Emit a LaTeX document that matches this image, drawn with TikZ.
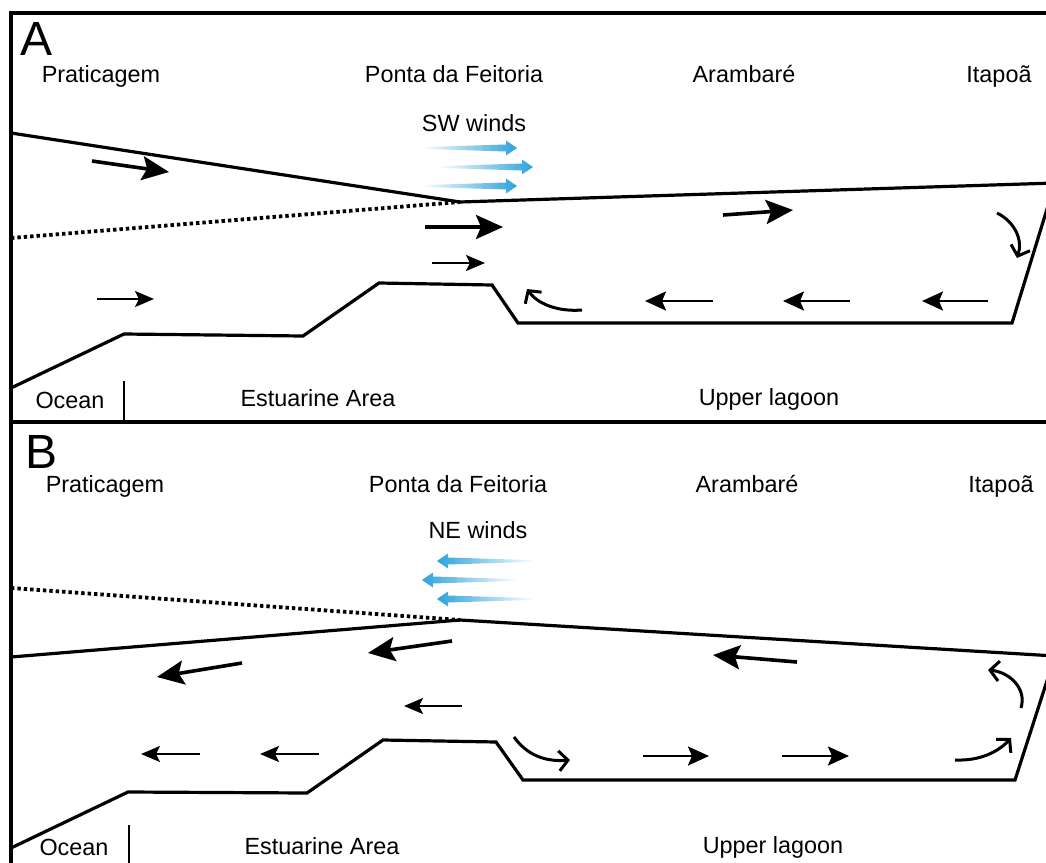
\documentclass[tikz,border=0pt]{standalone}
\usepackage{fontspec}
\setmainfont{Liberation Sans}
\usetikzlibrary{arrows.meta}
\definecolor{windblue}{HTML}{2EA3DC}

\begin{document}
\begin{tikzpicture}[
  x=0.5pt, y=-0.5pt,
  frame/.style={line width=1.7pt, line join=miter},
  shore/.style={line width=1.6pt, line join=miter},
  channel/.style={line width=1.9pt, dash pattern=on 1.7pt off 1.5pt},
  place/.style={font=\fontsize{11.7}{14}\selectfont, anchor=base, inner sep=0pt},
  panel/.style={font=\fontsize{24}{28}\selectfont, inner sep=0pt},
  flowthick/.style={line width=1.8pt, -{Stealth[length=13.5pt, width=12pt, inset=2.5pt]}},
  flow/.style={line width=1.3pt, -{Stealth[length=10.5pt, width=9.5pt, inset=2pt]}},
  flowthin/.style={line width=1pt, -{Stealth[length=9.5pt, width=8pt, inset=2pt]}},
  eddy/.style={line width=1.5pt, -{Straight Barb[length=4.5pt, width=10pt, line width=1.5pt]}},
  wind/.style={left color=white, middle color=windblue!60, right color=windblue}
]
\useasboundingbox (0,0) rectangle (1046,863);
\clip (0,0) rectangle (1046,863);

% Frame
\draw[frame] (11,863) -- (11,13) -- (1046,13);
\draw[frame] (11,422) -- (1046,422);
\draw[line width=0.7pt] (124,381) -- (124,422);
\draw[line width=0.7pt] (129,825) -- (129,863);

% Panel A: SW winds
\node[panel] (A) at (37,39) {A};
\node[place] (pratA) at (101,82) {Praticagem};
\node[place] (pontaA) at (454,82) {Ponta da Feitoria};
\node[place] (aramA) at (744,82) {Arambaré};
\node[place] (itaA) at (999,82) {Itapoã};
\node[place] (windA) at (474,131) {SW winds};
\node[place] (oceanA) at (70,408) {Ocean};
\node[place] (estA) at (318,406) {Estuarine Area};
\node[place] (upA) at (769,405) {Upper lagoon};

\coordinate (FA) at (460,202);
\draw[shore] (11,133) -- (FA) -- (1055,183) -- (1012,323) -- (518,323)
  -- (492,285) -- (379,283) -- (303,336) -- (124,334) -- (11,388);
\draw[channel] (11,238) -- (FA);

\foreach \xa/\xb/\yy in {420/517/148, 437/533/167, 420/517/186}
  \shade[wind] (\xa,\yy-0.8) -- (\xb-11,\yy-3.5) -- (\xb-11,\yy-7.5) -- (\xb,\yy)
    -- (\xb-11,\yy+7.5) -- (\xb-11,\yy+3.5) -- (\xa,\yy+0.8) -- cycle;

\draw[flowthick] (92,161) -- (169,172);
\draw[flowthin] (97,299) -- (154,299);
\draw[flowthick] (425,227) -- (503,227);
\draw[flowthin] (432,263) -- (485,263);
\draw[flowthick] (723,215) -- (793,210);
\draw[flow] (713,301) -- (645,301);
\draw[flow] (850,301) -- (783,301);
\draw[flow] (988,301) -- (922,301);
\draw[eddy] (582,310) .. controls (556,312) and (537,303) .. (527,289);
\draw[eddy] (997,213) .. controls (1015,222) and (1023,240) .. (1017,258);

% Panel B: NE winds
\node[panel] (B) at (42,452) {B};
\node[place] (pratB) at (105,492) {Praticagem};
\node[place] (pontaB) at (458,492) {Ponta da Feitoria};
\node[place] (aramB) at (747,492) {Arambaré};
\node[place] (itaB) at (1001,492) {Itapoã};
\node[place] (windB) at (478,538) {NE winds};
\node[place] (oceanB) at (74,855) {Ocean};
\node[place] (estB) at (322,854) {Estuarine Area};
\node[place] (upB) at (773,853) {Upper lagoon};

\coordinate (FB) at (460,620);
\draw[shore] (11,657) -- (FB) -- (1055,656) -- (1015,780) -- (523,780)
  -- (496,742) -- (383,740) -- (307,793) -- (128,792) -- (11,848);
\draw[channel] (11,588) -- (FB);

\foreach \xa/\xb/\yy in {535/437/561, 518/422/580, 535/437/599}
  \shade[wind, left color=windblue, right color=white] (\xa,\yy-0.8) -- (\xb+11,\yy-3.5) -- (\xb+11,\yy-7.5) -- (\xb,\yy)
    -- (\xb+11,\yy+7.5) -- (\xb+11,\yy+3.5) -- (\xa,\yy+0.8) -- cycle;

\draw[flowthick] (242,663) -- (157,677);
\draw[flowthick] (452,641) -- (368,653);
\draw[flowthick] (797,662) -- (713,655);
\draw[flowthin] (462,706) -- (404,706);
\draw[flowthin] (200,754) -- (141,754);
\draw[flowthin] (319,754) -- (260,754);
\draw[flow] (643,756) -- (709,756);
\draw[flow] (782,756) -- (849,756);
\draw[eddy] (514,737) .. controls (527,755) and (545,762) .. (570,760);
\draw[eddy] (955,760) .. controls (980,761) and (998,752) .. (1011,738);
\draw[eddy] (1021,708) .. controls (1027,688) and (1009,672) .. (988,670);

\end{tikzpicture}
\end{document}
